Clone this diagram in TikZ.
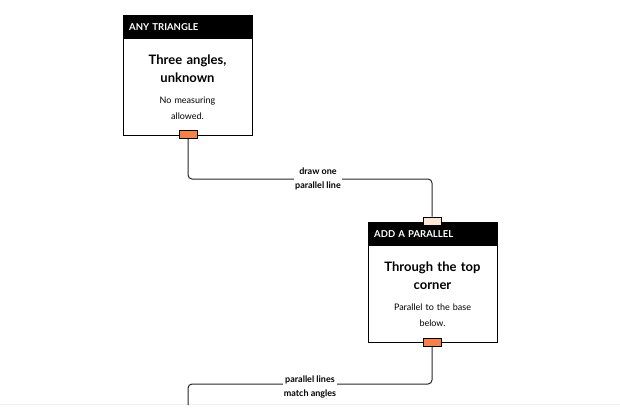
\documentclass[tikz,border=0pt]{standalone}
\usepackage{fontspec}
\setmainfont{Lato}
\usetikzlibrary{positioning}
\definecolor{portorange}{HTML}{F5824A}
\definecolor{portpeach}{HTML}{FCE6D6}
\begin{document}
\begin{tikzpicture}[x=1pt,y=-1pt]
    \tikzset{%
        card/.style={draw=black,line width=1.2pt,minimum width=129pt,minimum height=120pt,inner sep=0pt},
        header/.style={fill=black,text=white,font=\bfseries\fontsize{9.5}{11}\selectfont,
                minimum width=129pt,minimum height=24pt,inner sep=6pt,anchor=north west,text width=117pt},
        title/.style={font=\bfseries\fontsize{13}{18}\selectfont,align=center,text width=115pt},
        body/.style={font=\fontsize{9}{16}\selectfont,align=center,text width=110pt},
        port/.style={draw=black,line width=1pt,minimum width=18pt,minimum height=8pt,inner sep=0pt},
        wire/.style={line width=1pt,rounded corners=4pt,draw=black!85},
        tag/.style={fill=white,font=\bfseries\fontsize{9}{14}\selectfont,align=center,inner sep=1pt}
    }
    \useasboundingbox (0,0) rectangle (620,415);
    %% backdrop rule
    \draw[black!6,line width=0.8pt] (0,404) -- (620,404);

    %% first card
    \node[card,anchor=north west] (tri) at (123,15) {};
    \node[header] (triH) at (tri.north west) {ANY TRIANGLE};
    \node[title] (triT) at (187.5,69) {Three angles,\\unknown};
    \node[body] (triB) at (187.5,108) {No measuring\\allowed.};
    \node[port,fill=portorange] (triOut) at (188,134.5) {};

    %% second card
    \node[card,anchor=north west] (par) at (368,222) {};
    \node[header] (parH) at (par.north west) {ADD A PARALLEL};
    \node[title] (parT) at (432.5,276) {Through the top\\corner};
    \node[body] (parB) at (432.5,315) {Parallel to the base\\below.};
    \node[port,fill=portpeach] (parIn) at (432,221) {};
    \node[port,fill=portorange] (parOut) at (432,342.5) {};
    \coordinate (next) at (188,405);

    %% connectors
    \draw[wire] (triOut.south) |- (300,179) -| (parIn.north);
    \draw[wire] (parOut.south) |- (300,384) -| (next);
    \node[tag] (t1) at (318,179) {draw one\\parallel line};
    \node[tag] (t2) at (310,387) {parallel lines\\match angles};
\end{tikzpicture}
\end{document}
